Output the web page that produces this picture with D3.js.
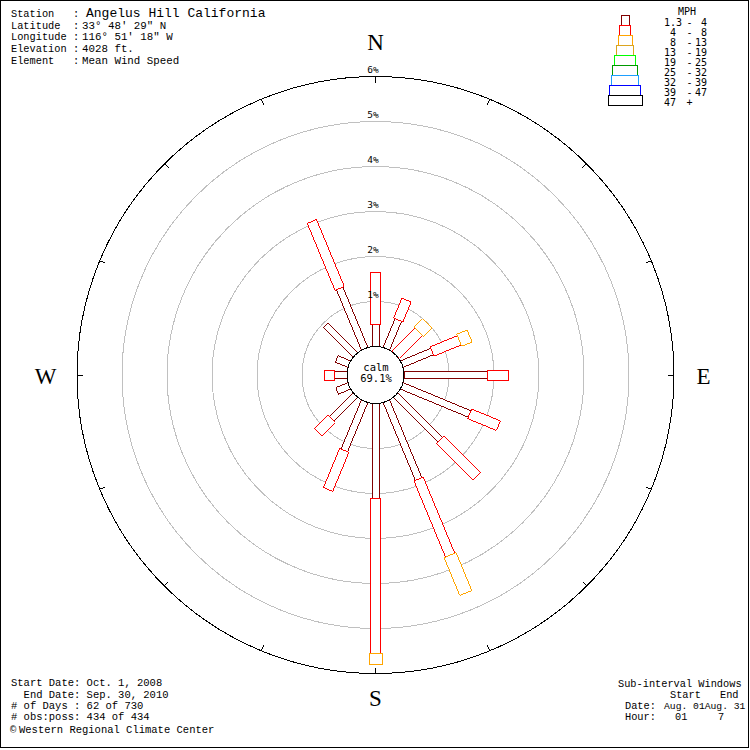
<!DOCTYPE html>
<html><head><meta charset="utf-8">
<script src="https://cdn.jsdelivr.net/npm/d3@7"></script>
<style>
body{margin:0;background:#fff}
svg{display:block}
text{white-space:pre}
</style>
</head><body>
<svg id="chart" width="750" height="750"></svg>
<script>
// ---------- data ----------
const directions = ["N","NNE","NE","ENE","E","ESE","SE","SSE","S","SSW","SW","WSW","W","WNW","NW","NNW"];
const speedKeys = ["s1","s2","s3","s4","s5","s6","s7","s8","s9"];
const speedLow  = ["1.3"," 4"," 8","13","19","25","32","39","47"];
const speedHigh = ["4","8","13","19","25","32","39","47",""];
// percent of observations per direction, per speed class (mph)
const pct_1_4   = [0.49,0.69,0.00,0.73,1.85,1.63,1.40,1.87,2.11,1.18,0.74,0.29,0.28,0.30,0.93,1.45];
const pct_4_8   = [1.16,0.48,0.72,0.65,0.47,0.69,1.15,1.83,3.44,0.94,0.43,0.00,0.22,0.00,0.00,1.61];
const pct_8_13  = [0,0,0.27,0.25,0,0,0,0.91,0.25,0,0,0,0,0,0,0];
const pct_13_19 = [0,0,0,0,0,0,0,0,0,0,0,0,0,0,0,0];
const pct_19_25 = [0,0,0,0,0,0,0,0,0,0,0,0,0,0,0,0];
const pct_25_32 = [0,0,0,0,0,0,0,0,0,0,0,0,0,0,0,0];
const pct_32_39 = [0,0,0,0,0,0,0,0,0,0,0,0,0,0,0,0];
const pct_39_47 = [0,0,0,0,0,0,0,0,0,0,0,0,0,0,0,0];
const pct_47    = [0,0,0,0,0,0,0,0,0,0,0,0,0,0,0,0];
const ringTicks = [1,2,3,4,5,6];
const calmPct = "69.1%";
const compass = ["N","E","S","W"];
const stationLines = [["Station",""],["Latitude","33° 48' 29\" N"],["Longitude","116° 51' 18\" W"],["Elevation","4028 ft."],["Element","Mean Wind Speed"]];
const stationName = "Angelus Hill California";
const footLeft = ["Start Date: Oct. 1, 2008","  End Date: Sep. 30, 2010","# of Days : 62 of 730","# obs:poss: 434 of 434"];
const credit = "Western Regional Climate Center";

// ---------- styles ----------
const colors = ["#800000","#ff0000","#ffa500","#daa520","#00ff00","#009900","#1e9fff","#0000ff","#000000"];
const widths = [7,10,13,16,20,24,26,30,33];
const mono = "'DejaVu Sans Mono', monospace";
const cmono = "'Liberation Mono', monospace";

const svg = d3.select("#chart").attr("shape-rendering","crispEdges");
svg.append("rect").attr("x",0.5).attr("y",0.5).attr("width",748).attr("height",747)
  .attr("fill","#fff").attr("stroke","#000");

const cx = 375.5, cy = 375;
const r = d3.scaleLinear().domain([0,6]).range([28.5,298.5]);
const ang = d3.scalePoint().domain(directions).range([0,337.5]);

const allSeries = [pct_1_4,pct_4_8,pct_8_13,pct_13_19,pct_19_25,pct_25_32,pct_32_39,pct_39_47,pct_47];
const rows = directions.map((d,i)=>{const o={dir:d}; speedKeys.forEach((k,j)=>o[k]=allSeries[j][i]); return o;});
const stacked = d3.stack().keys(speedKeys)(rows);

const g = svg.append("g").attr("transform",`translate(${cx},${cy})`);

// gray rings
g.selectAll("circle.ring").data(ringTicks.filter(t=>t<6)).join("circle")
  .attr("r",d=>r(d)).attr("fill","none").attr("stroke","#c0c0c0");

// bars
stacked.forEach((ser,j)=>{
  g.append("g").selectAll("rect").data(ser.filter(d=>d[1]-d[0]>0)).join("rect")
    .attr("transform",d=>`rotate(${ang(d.data.dir)})`)
    .attr("x",-widths[j]/2).attr("width",widths[j])
    .attr("y",d=>-r(d[1])).attr("height",d=>r(d[1])-r(d[0]))
    .attr("fill","#fff").attr("stroke",colors[j]);
});

// outer ring
g.append("circle").attr("r",r(6)).attr("fill","none").attr("stroke","#000");
// ticks
g.selectAll("line.tick").data(directions).join("line")
  .attr("transform",d=>`rotate(${ang(d)})`)
  .attr("x1",0).attr("x2",0).attr("y1",-r(6)).attr("y2",-r(6)+6).attr("stroke","#000");
// calm circle
g.append("circle").attr("r",r(0)).attr("fill","#fff").attr("stroke","#000");
g.append("text").attr("x",0.5).attr("y",-4).attr("text-anchor","middle")
  .attr("font-family",mono).attr("font-size",10.5).text("calm");
g.append("text").attr("x",0.5).attr("y",7).attr("text-anchor","middle")
  .attr("font-family",mono).attr("font-size",10.5).text(calmPct);

// ring labels
g.selectAll("text.rl").data(ringTicks).join("text")
  .attr("x",-2.5).attr("y",d=>-r(d)-4).attr("text-anchor","middle")
  .attr("font-family",mono).attr("font-size",9.5).text(d=>d+"%");

// compass letters
const cpos = {N:[0,-325],E:[328,8.5],S:[0,330.5],W:[-330,8.5]};
g.selectAll("text.cp").data(compass).join("text")
  .attr("x",d=>cpos[d][0]).attr("y",d=>cpos[d][1]).attr("text-anchor","middle")
  .attr("font-family","'Liberation Serif', serif").attr("font-size",23).text(d=>d);

// station info
stationLines.forEach((l,i)=>{
  const y = [17,29,40,52,64][i];
  svg.append("text").attr("x",11).attr("y",y).attr("font-family",cmono).attr("font-size",10.3).text(l[0]);
  svg.append("text").attr("x",73).attr("y",y).attr("font-family",cmono).attr("font-size",10.3).text(":");
  if(l[1]) svg.append("text").attr("x",82).attr("y",y).attr("font-family",cmono).attr("font-size",10.8).text(l[1]);
});
svg.append("text").attr("x",86).attr("y",17).attr("font-family",cmono).attr("font-size",13).text(stationName);

// footer left
footLeft.forEach((s,i)=>{
  svg.append("text").attr("x",11).attr("y",[686,698,709,720][i]).attr("font-family",cmono).attr("font-size",10.5).text(s);
});
svg.append("text").attr("x",10).attr("y",733).attr("font-family",cmono).attr("font-size",10.5).text("©");
svg.append("text").attr("x",19).attr("y",733).attr("font-family",cmono).attr("font-size",10.5).text(credit);

// footer right
const fr = [["Sub-interval Windows",618,686.5],["Start",670,697.5],["End",720,697.5],["Date:",625,708.5],["Aug. 01Aug. 31",664,708.5],["Hour:",625,719.5],["01",675,719.5],["7",718,719.5]];
fr.forEach(t=>svg.append("text").attr("x",t[1]).attr("y",t[2]).attr("font-family",cmono).attr("font-size",t[1]===664?9.7:10.3).text(t[0]));

// legend
const lg = svg.append("g");
speedKeys.forEach((k,i)=>{
  lg.append("rect").attr("x",625-widths[i]/2-0.5).attr("y",15+i*10+0.5).attr("width",widths[i]+1).attr("height",10)
    .attr("fill","#fff").attr("stroke",colors[i]);
});
lg.append("text").attr("x",687).attr("y",14.5).attr("text-anchor","middle").attr("font-family",mono).attr("font-size",10).text("MPH");
speedKeys.forEach((k,i)=>{
  const y = 25.5+i*10;
  lg.append("text").attr("x",664).attr("y",y).attr("font-family",mono).attr("font-size",10).text(speedLow[i]);
  lg.append("text").attr("x",689.5).attr("y",y).attr("text-anchor","middle").attr("font-family",mono).attr("font-size",10).text(speedHigh[i]?"-":"+");
  if(speedHigh[i]) lg.append("text").attr("x",707).attr("y",y).attr("text-anchor","end").attr("font-family",mono).attr("font-size",10).text(speedHigh[i]);
});
</script>
</body></html>
